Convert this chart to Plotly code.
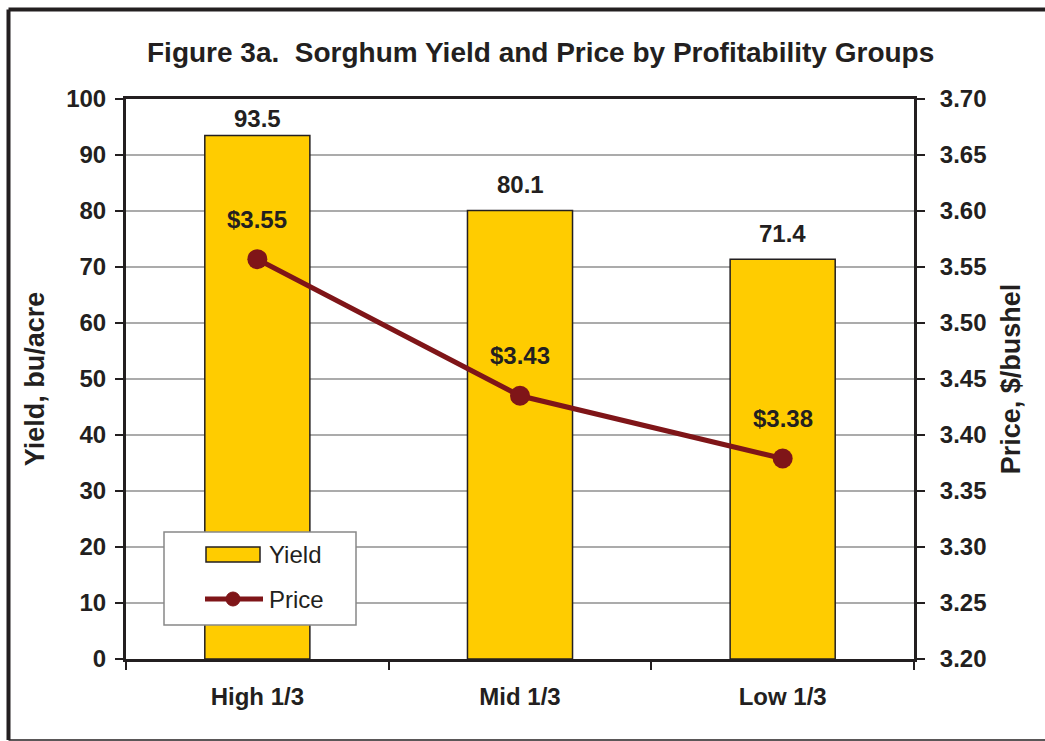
import plotly.graph_objects as go

# 数据
groups = ['High 1/3', 'Mid 1/3', 'Low 1/3']
yield_values = [93.5, 80.1, 71.4]
price_values = [3.557, 3.435, 3.379]
price_labels = ['$3.55', '$3.43', '$3.38']

yellow = '#FFCC00'
dark_red = '#7F1518'
txt = '#231F20'
font_family = 'Liberation Sans, Arial, sans-serif'

# 绘图区像素位置
PL, PT, PW, PH = 126, 99, 788, 560
W, H = 1045, 741


def px(x):
    return (x - PL) / PW


def py(y):
    return (PT + PH - y) / PH


fig = go.Figure()

fig.add_trace(go.Bar(
    x=groups, y=yield_values, name='Yield',
    marker=dict(color=yellow, line=dict(color=txt, width=1.5)),
))

fig.add_trace(go.Scatter(
    x=groups, y=price_values, name='Price', yaxis='y2',
    mode='lines+markers',
    line=dict(color=dark_red, width=5),
    marker=dict(color=dark_red, size=20),
))

# 产量标签 (顶部的标签离柱子近一些)
for g, v in zip(groups, yield_values):
    fig.add_annotation(x=g, y=v, xref='x', yref='y', text=f'<b>{v:.1f}</b>',
                       showarrow=False, yshift=17 if v > 90 else 26,
                       font=dict(size=24, color=txt, family=font_family))

# 价格标签
for g, p, lab in zip(groups, price_values, price_labels):
    fig.add_annotation(x=g, y=p, xref='x', yref='y2', text=f'<b>{lab}</b>',
                       showarrow=False, yshift=40,
                       font=dict(size=24, color=txt, family=font_family))

fig.update_layout(
    width=W, height=H,
    margin=dict(l=PL, r=W - PL - PW, t=PT, b=H - PT - PH),
    paper_bgcolor='white', plot_bgcolor='white',
    font=dict(family=font_family, color=txt),
    bargap=0.6,
    showlegend=False,
    xaxis=dict(
        type='category', tickson='boundaries', ticks='outside', ticklen=8,
        tickwidth=1.5, tickcolor=txt,
        showline=True, linecolor=txt, linewidth=3, mirror=True,
        tickfont=dict(size=24, color=txt, family=font_family),
        tickprefix='<b>', ticksuffix='</b>',
        ticklabelstandoff=14,
    ),
    yaxis=dict(
        range=[0, 100], dtick=10, ticks='outside', ticklen=8,
        tickwidth=1.5, tickcolor=txt,
        showline=True, linecolor=txt, linewidth=3, mirror=True,
        showgrid=True, gridcolor='#ABABAB', gridwidth=2,
        zeroline=False,
        tickfont=dict(size=24, color=txt, family=font_family),
        tickprefix='<b>', ticksuffix='</b>',
        ticklabelstandoff=4,
        title=dict(text='<b>Yield, bu/acre</b>', font=dict(size=27, color=txt), standoff=14),
    ),
    yaxis2=dict(
        range=[3.20, 3.70], dtick=0.05, tickformat='.2f', overlaying='y', side='right',
        ticks='outside', ticklen=8, tickwidth=1.5, tickcolor=txt,
        showline=True, linecolor=txt, linewidth=3, showgrid=False, zeroline=False,
        tickfont=dict(size=24, color=txt, family=font_family),
        tickprefix='<b>', ticksuffix='</b>',
        ticklabelstandoff=10,
        title=dict(text='<b>Price, $/bushel</b>', font=dict(size=27, color=txt), standoff=16),
    ),
)

fig.add_annotation(
    text='<b>Figure 3a.  Sorghum Yield and Price by Profitability Groups</b>',
    xref='paper', yref='paper', x=px(540), y=py(52), xanchor='center', yanchor='middle',
    showarrow=False, font=dict(size=28, color=txt, family=font_family),
)

# 图例 (手工绘制)
fig.add_shape(type='rect', xref='paper', yref='paper', x0=px(164), x1=px(356), y0=py(532), y1=py(625),
              fillcolor='white', line=dict(color='#888888', width=1.5), layer='above')
fig.add_shape(type='rect', xref='paper', yref='paper', x0=px(206), x1=px(260), y0=py(547), y1=py(562),
              fillcolor=yellow, line=dict(color=txt, width=1.5), layer='above')
fig.add_shape(type='line', xref='paper', yref='paper', x0=px(205), x1=px(263), y0=py(599), y1=py(599),
              line=dict(color=dark_red, width=5), layer='above')
fig.add_shape(type='circle', xref='paper', yref='paper', x0=px(226), x1=px(240), y0=py(592), y1=py(606),
              fillcolor=dark_red, line=dict(color=dark_red, width=1), layer='above')
for label, yy in [('Yield', 554), ('Price', 599)]:
    fig.add_annotation(text=label, xref='paper', yref='paper', x=px(267), y=py(yy),
                       xanchor='left', yanchor='middle', showarrow=False,
                       font=dict(size=24, color=txt, family=font_family))

# 外框
frame = dict(color=txt, width=4)
fig.add_shape(type='line', xref='paper', yref='paper', x0=px(8.5), x1=px(1045), y0=py(9.5), y1=py(9.5), line=frame)
fig.add_shape(type='line', xref='paper', yref='paper', x0=px(8.5), x1=px(8.5), y0=py(9.5), y1=py(740), line=frame)
fig.add_shape(type='line', xref='paper', yref='paper', x0=px(8.5), x1=px(1045), y0=py(740), y1=py(740),
              line=dict(color=txt, width=1.5))

# 去掉页面默认边距，避免出现滚动条；隐藏工具栏
fig.write_html('out.html', config={'displayModeBar': False},
               post_script="document.body.style.margin='0';document.body.style.overflow='hidden';")
